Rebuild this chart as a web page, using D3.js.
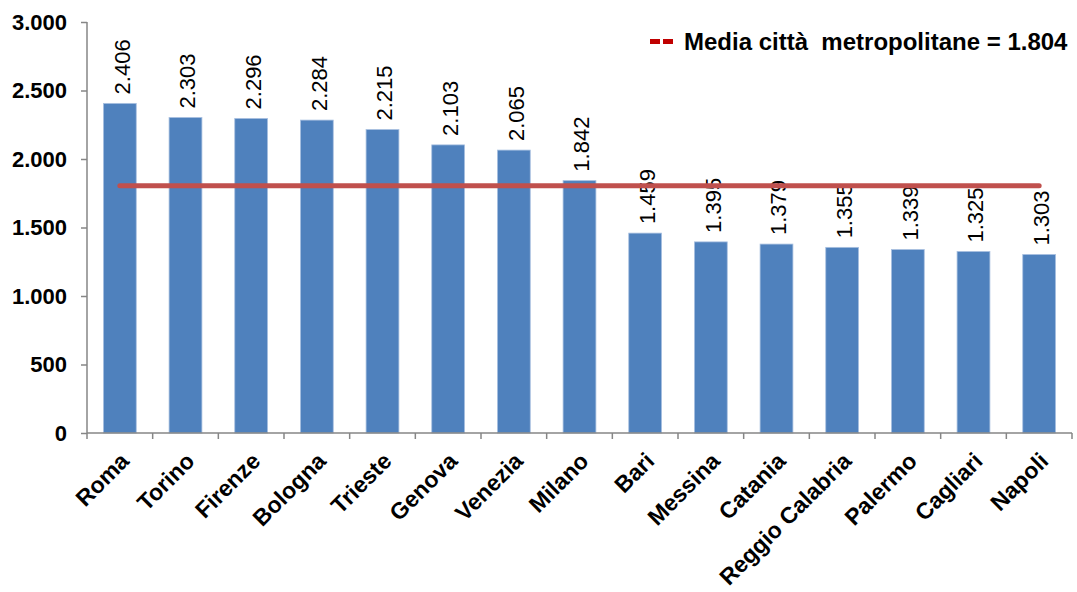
<!DOCTYPE html>
<html><head><meta charset="utf-8">
<script src="https://cdn.jsdelivr.net/npm/d3@7"></script>
<style>
body{margin:0;background:#fff;}
text{font-family:"Liberation Sans",Arial,sans-serif;}
</style></head>
<body>
<svg id="chart" width="1077" height="592"></svg>
<script>
const categories = ["Roma","Torino","Firenze","Bologna","Trieste","Genova","Venezia","Milano","Bari","Messina","Catania","Reggio Calabria","Palermo","Cagliari","Napoli"];
const values = [2406,2303,2296,2284,2215,2103,2065,1842,1459,1395,1379,1355,1339,1325,1303];
const average = 1804;
const yTicks = [0,500,1000,1500,2000,2500,3000];
const legendLabel = "Media città  metropolitane = 1.804";

const fmt = v => d3.format(",")(v).replace(/,/g, ".");
const svg = d3.select("#chart");
const mLeft = 87, mRight = 1072, mTop = 22, mBottom = 433;

const x = d3.scaleBand().domain(categories).range([mLeft, mRight]).paddingInner(0.5).paddingOuter(0.25);
const y = d3.scaleLinear().domain([0, 3000]).range([mBottom, mTop]);

// bars
svg.append("g").selectAll("rect").data(values).join("rect")
  .attr("x", (d,i) => x(categories[i]))
  .attr("y", d => y(d))
  .attr("width", x.bandwidth())
  .attr("height", d => y(0) - y(d))
  .attr("fill", "#4F81BD")
  .attr("stroke", "#a9c0e0").attr("stroke-width", 0.8);

// y axis
const yAxis = svg.append("g").attr("transform", `translate(${mLeft},0)`)
  .call(d3.axisLeft(y).tickValues(yTicks).tickSize(6).tickPadding(14).tickFormat(fmt));
yAxis.selectAll("path,line").attr("stroke", "#868686").attr("stroke-width", 1.5);
yAxis.select(".domain").attr("d", `M0,${mTop}V${mBottom}`);
yAxis.selectAll("text").attr("font-size", 22).attr("font-weight", "bold").attr("fill", "#000")
  .attr("font-family", '"Liberation Sans",Arial,sans-serif');

// x axis
const xAxisG = svg.append("g").attr("transform", `translate(0,${mBottom})`);
xAxisG.append("line").attr("x1", mLeft).attr("x2", mRight).attr("stroke", "#868686").attr("stroke-width", 1.5);
const tickPos = d3.range(categories.length + 1).map(i => mLeft + i * (mRight - mLeft) / categories.length);
xAxisG.selectAll("line.tk").data(tickPos).join("line").attr("class","tk")
  .attr("x1", d => d).attr("x2", d => d).attr("y1", 0).attr("y2", 6)
  .attr("stroke", "#868686").attr("stroke-width", 1.5);
xAxisG.selectAll("text").data(categories).join("text")
  .attr("transform", d => `translate(${x(d) + x.bandwidth()/2 - 1},${18}) rotate(-45)`)
  .attr("text-anchor", "end")
  .attr("dy", "0.71em")
  .attr("font-size", 23).attr("font-weight", "bold").attr("fill", "#000")
  .text(d => d);

// value labels
svg.append("g").selectAll("text").data(values).join("text")
  .attr("transform", (d,i) => `translate(${x(categories[i]) + x.bandwidth()/2 + 2},${y(d) - 9}) rotate(-90)`)
  .attr("dy", "0.35em")
  .attr("font-size", 22).attr("fill", "#000")
  .text(d => fmt(d));

// average line
svg.append("line")
  .attr("x1", x(categories[0]) + x.bandwidth()/2)
  .attr("x2", x(categories[categories.length-1]) + x.bandwidth()/2)
  .attr("y1", y(average)).attr("y2", y(average))
  .attr("stroke", "#C0504D").attr("stroke-width", 5).attr("stroke-linecap", "round");

// legend
const lg = svg.append("g");
lg.append("line").attr("x1", 650).attr("x2", 673).attr("y1", 41.5).attr("y2", 41.5)
  .attr("stroke", "#C00000").attr("stroke-width", 5).attr("stroke-dasharray", "10,3");
lg.append("text").attr("x", 684).attr("y", 50).attr("font-size", 24).attr("font-weight", "bold")
  .attr("fill", "#000").attr("xml:space", "preserve").style("white-space", "pre").text(legendLabel);
</script>
</body></html>
